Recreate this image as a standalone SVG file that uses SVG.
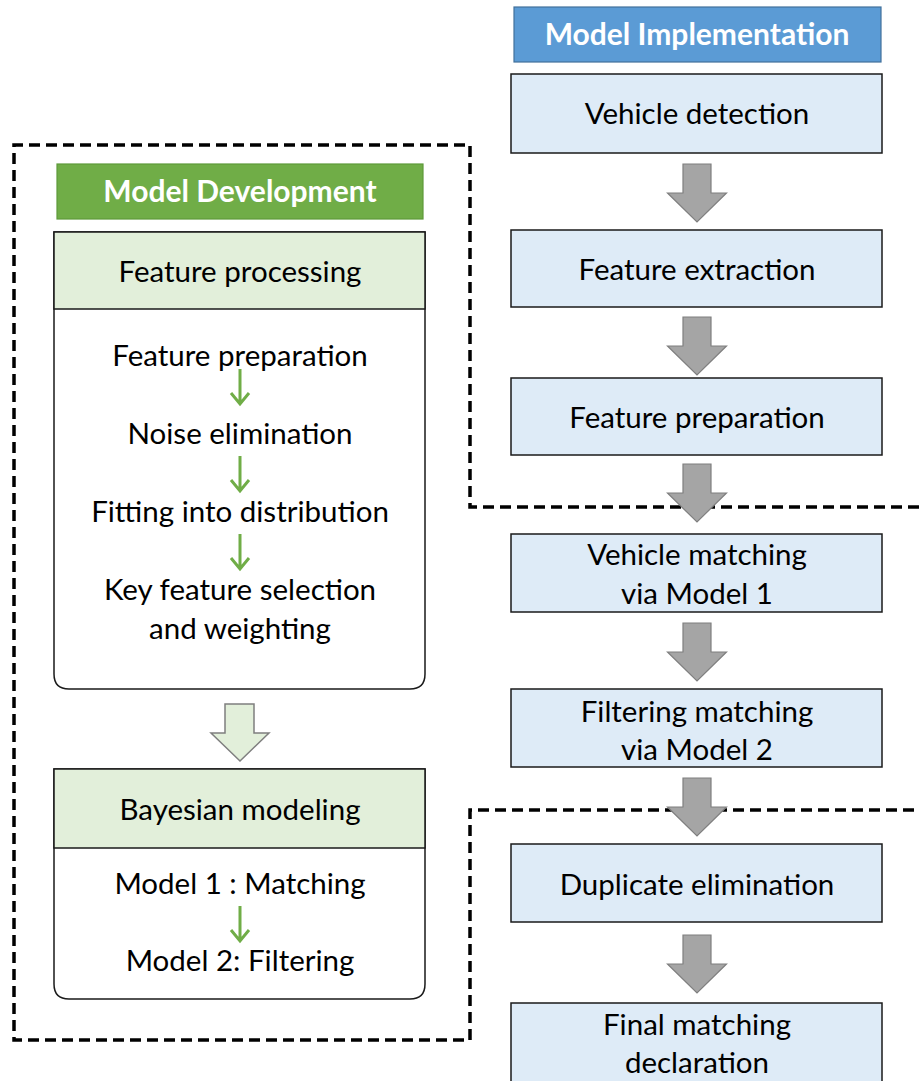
<svg xmlns="http://www.w3.org/2000/svg" width="919" height="1081" viewBox="0 0 919 1081">
<style>
.t{font-family:Lato,"Liberation Sans",sans-serif;font-size:29.5px;fill:#000;text-anchor:middle}
.h{font-family:Lato,"Liberation Sans",sans-serif;font-size:30px;font-weight:bold;fill:#fff;text-anchor:middle}
.blue{fill:#DEEBF7;stroke:#1a1a1a;stroke-width:1.5}
.lg{fill:#E2EFDA;stroke:#1a1a1a;stroke-width:1.5}
.body{fill:#fff;stroke:#1a1a1a;stroke-width:1.5}
.ga{fill:#A5A5A5;stroke:#7F7F7F;stroke-width:1.2}
.ha{fill:#E2EFDA;stroke:#7F7F7F;stroke-width:1.5}
.gr{stroke:#70AD47;stroke-width:3;fill:none}
.dash{fill:none;stroke:#000;stroke-width:3.5;stroke-dasharray:11 6}
</style>
<defs>
<path id="garrow" d="M-14,0 H14 V29 H29.5 L0,58 L-29.5,29 H-14 Z"/>
</defs>

<g id="boundary">
<path class="dash" d="M919,507 H470 V145 H14 V1040 H470 V810 H919"/>
</g>

<g id="model-development">
<rect x="57" y="164" width="366" height="55" fill="#70AD47" stroke="#5E9A3A" stroke-width="1.2"/>
<text class="h" x="240" y="202">Model Development</text>
</g>

<g id="feature-processing">
<path class="body" d="M54,232 H425 V674 Q425,689 410,689 H69 Q54,689 54,674 Z"/>
<rect class="lg" x="54" y="232" width="371" height="77"/>
<text class="t" x="240" y="282">Feature processing</text>
<text class="t" x="240" y="366">Feature preparation</text>
<text class="t" x="240" y="444">Noise elimination</text>
<text class="t" x="240" y="522">Fitting into distribution</text>
<text class="t" x="240" y="600">Key feature selection</text>
<text class="t" x="240" y="639">and weighting</text>
</g>

<g id="bayesian-modeling">
<path class="body" d="M54,769 H425 V984 Q425,999 410,999 H69 Q54,999 54,984 Z"/>
<rect class="lg" x="54" y="769" width="371" height="79"/>
<text class="t" x="240" y="820">Bayesian modeling</text>
<text class="t" x="240" y="894">Model 1 : Matching</text>
<text class="t" x="240" y="971">Model 2: Filtering</text>
</g>

<g id="model-implementation">
<rect x="514" y="7" width="367" height="55" fill="#5B9BD5" stroke="#41719C" stroke-width="1.2"/>
<text class="h" x="697" y="45">Model Implementation</text>
</g>

<g id="vehicle-detection">
<rect class="blue" x="511" y="74" width="371" height="79"/>
<text class="t" x="697" y="124">Vehicle detection</text>
</g>
<g id="feature-extraction">
<rect class="blue" x="511" y="230" width="371" height="77"/>
<text class="t" x="697" y="280">Feature extraction</text>
</g>
<g id="feature-preparation">
<rect class="blue" x="511" y="378" width="371" height="77"/>
<text class="t" x="697" y="428">Feature preparation</text>
</g>
<g id="vehicle-matching">
<rect class="blue" x="511" y="534" width="371" height="78"/>
<text class="t" x="697" y="565">Vehicle matching</text>
<text class="t" x="697" y="604">via Model 1</text>
</g>
<g id="filtering-matching">
<rect class="blue" x="511" y="689" width="371" height="78"/>
<text class="t" x="697" y="722">Filtering matching</text>
<text class="t" x="697" y="760">via Model 2</text>
</g>
<g id="duplicate-elimination">
<rect class="blue" x="511" y="844" width="371" height="78"/>
<text class="t" x="697" y="895">Duplicate elimination</text>
</g>
<g id="final-matching">
<rect class="blue" x="511" y="1003" width="371" height="90"/>
<text class="t" x="697" y="1035">Final matching</text>
<text class="t" x="697" y="1073">declaration</text>
</g>

<g id="connectors">
<use href="#garrow" class="ga" x="697" y="164"/>
<use href="#garrow" class="ga" x="697" y="317"/>
<use href="#garrow" class="ga" x="697" y="464"/>
<use href="#garrow" class="ga" x="697" y="623"/>
<use href="#garrow" class="ga" x="697" y="778"/>
<use href="#garrow" class="ga" x="697" y="935"/>
<path class="ha" d="M225,704 H254 V733 H269 L240,761 L211,733 H225 Z"/>
<path class="gr" d="M240,369 V404 M231,393 L240,404 L249,393"/>
<path class="gr" d="M240,456 V491 M231,480 L240,491 L249,480"/>
<path class="gr" d="M240,534 V569 M231,558 L240,569 L249,558"/>
<path class="gr" d="M240,906 V941 M231,930 L240,941 L249,930"/>
</g>
</svg>
